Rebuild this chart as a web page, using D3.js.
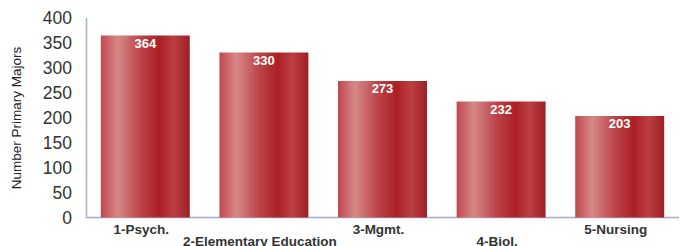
<!DOCTYPE html>
<html>
<head>
<meta charset="utf-8">
<script src="https://cdn.jsdelivr.net/npm/d3@7"></script>
<style>
  body { margin: 0; background: #fff; }
  text { font-family: "Liberation Sans", Arial, sans-serif; }
</style>
</head>
<body>
<svg id="chart" width="681" height="246"></svg>
<script>
// chart data
var categories = ['1-Psych.', '2-Elementary Education', '3-Mgmt.', '4-Biol.', '5-Nursing'];
var majors = [364, 330, 273, 232, 203];
var yTicks = [0, 50, 100, 150, 200, 250, 300, 350, 400];

var svg = d3.select('#chart');

var x = d3.scaleBand()
  .domain(categories)
  .range([86, 679])
  .paddingInner(0.25)
  .paddingOuter(0.125);

var y = d3.scaleLinear()
  .domain([0, 400])
  .range([217.5, 17.5]);

// bar shading, left to right
var grad = svg.append('defs').append('linearGradient')
  .attr('id', 'barGrad')
  .attr('x1', '0%').attr('x2', '100%')
  .attr('y1', '0%').attr('y2', '0%');
[['0%', '#c1474c'], ['19%', '#d68888'], ['45%', '#bb4348'], ['66%', '#ab1f24'],
 ['82%', '#bc3f44'], ['100%', '#9e1f23']].forEach(function(s){
  grad.append('stop').attr('offset', s[0]).attr('stop-color', s[1]);
});

// y axis
var yAxis = d3.axisLeft(y).tickValues(yTicks).tickSize(0).tickPadding(14);
var gy = svg.append('g')
  .attr('transform', 'translate(86,0)')
  .call(yAxis);
gy.select('.domain').attr('stroke', '#a4abc9').attr('stroke-width', 1.5);
gy.selectAll('text')
  .attr('font-size', '17.5px')
  .attr('fill', '#333')
  .attr('dy', '0.35em');

// x axis baseline
svg.append('line')
  .attr('x1', 86).attr('x2', 679)
  .attr('y1', y(0)).attr('y2', y(0))
  .attr('stroke', '#a4abc9').attr('stroke-width', 1.5);

// bars
svg.selectAll('.bar')
  .data(majors)
  .enter()
  .append('rect')
  .attr('class', 'bar')
  .attr('x', function(d, i){ return x(categories[i]); })
  .attr('y', function(d){ return y(d); })
  .attr('width', x.bandwidth())
  .attr('height', function(d){ return y(0) - y(d); })
  .attr('fill', 'url(#barGrad)');

// value labels
svg.selectAll('.val')
  .data(majors)
  .enter()
  .append('text')
  .attr('class', 'val')
  .attr('x', function(d, i){ return x(categories[i]) + x.bandwidth() / 2; })
  .attr('y', function(d){ return y(d) + 12; })
  .attr('text-anchor', 'middle')
  .attr('font-size', '13px')
  .attr('font-weight', 'bold')
  .attr('fill', '#fff')
  .text(function(d){ return d; });

// category labels, staggered (second row runs off the bottom like the original)
svg.selectAll('.cat')
  .data(categories)
  .enter()
  .append('text')
  .attr('class', 'cat')
  .attr('x', function(d){ return x(d) + x.bandwidth() / 2 - 4; })
  .attr('y', function(d, i){ return i % 2 === 0 ? 233.5 : 245.5; })
  .attr('text-anchor', 'middle')
  .attr('font-size', '13.5px')
  .attr('font-weight', 'bold')
  .attr('fill', '#333')
  .text(function(d){ return d; });

// y title
svg.append('text')
  .attr('transform', 'translate(21,118) rotate(-90)')
  .attr('text-anchor', 'middle')
  .attr('font-size', '13.5px')
  .attr('fill', '#222')
  .text('Number Primary Majors');
</script>
</body>
</html>
